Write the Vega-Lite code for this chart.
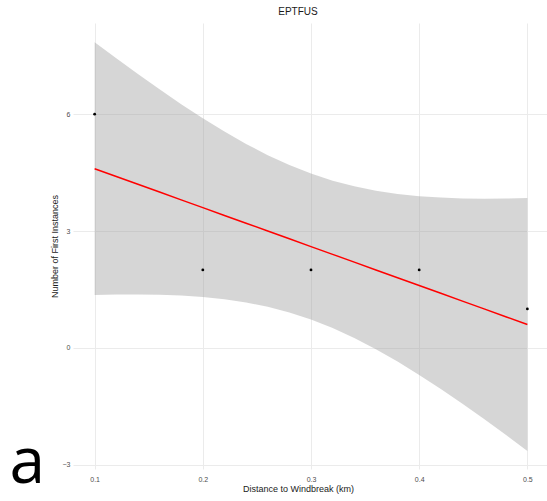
{
  "$schema": "https://vega.github.io/schema/vega-lite/v6.json",
  "width": 476,
  "height": 446,
  "autosize": {"type": "none"},
  "padding": {"left": 73, "top": 23, "right": 0, "bottom": 32},
  "background": "white",
  "title": {"text": "EPTFUS", "fontSize": 10, "font": "Liberation Sans", "fontWeight": "normal", "color": "#1a1a1a", "anchor": "middle", "dx": -13, "offset": 6},
  "config": {"view": {"stroke": null}},
  "datasets": {
    "pts": [
      {"distance": 0.1, "count": 6},
      {"distance": 0.2, "count": 2},
      {"distance": 0.3, "count": 2},
      {"distance": 0.4, "count": 2},
      {"distance": 0.5, "count": 1}
    ],
    "fit": [
      {"distance": 0.10, "fit": 4.6, "lo": 1.355, "hi": 7.845},
      {"distance": 0.12, "fit": 4.4, "lo": 1.367, "hi": 7.433},
      {"distance": 0.14, "fit": 4.2, "lo": 1.371, "hi": 7.029},
      {"distance": 0.16, "fit": 4.0, "lo": 1.364, "hi": 6.636},
      {"distance": 0.18, "fit": 3.8, "lo": 1.343, "hi": 6.257},
      {"distance": 0.20, "fit": 3.6, "lo": 1.305, "hi": 5.895},
      {"distance": 0.22, "fit": 3.4, "lo": 1.247, "hi": 5.553},
      {"distance": 0.24, "fit": 3.2, "lo": 1.165, "hi": 5.235},
      {"distance": 0.26, "fit": 3.0, "lo": 1.053, "hi": 4.947},
      {"distance": 0.28, "fit": 2.8, "lo": 0.908, "hi": 4.692},
      {"distance": 0.30, "fit": 2.6, "lo": 0.726, "hi": 4.474},
      {"distance": 0.32, "fit": 2.4, "lo": 0.508, "hi": 4.292},
      {"distance": 0.34, "fit": 2.2, "lo": 0.253, "hi": 4.147},
      {"distance": 0.36, "fit": 2.0, "lo": -0.035, "hi": 4.035},
      {"distance": 0.38, "fit": 1.8, "lo": -0.353, "hi": 3.953},
      {"distance": 0.40, "fit": 1.6, "lo": -0.695, "hi": 3.895},
      {"distance": 0.42, "fit": 1.4, "lo": -1.057, "hi": 3.857},
      {"distance": 0.44, "fit": 1.2, "lo": -1.436, "hi": 3.836},
      {"distance": 0.46, "fit": 1.0, "lo": -1.829, "hi": 3.829},
      {"distance": 0.48, "fit": 0.8, "lo": -2.233, "hi": 3.833},
      {"distance": 0.50, "fit": 0.6, "lo": -2.645, "hi": 3.845}
    ],
    "panel": [{"label": "a"}]
  },
  "layer": [
    {
      "data": {"name": "fit"},
      "mark": {"type": "area", "color": "#999999", "opacity": 0.4},
      "encoding": {
        "x": {"field": "distance", "type": "quantitative", "scale": {"domain": [0.08, 0.52], "nice": false, "zero": false},
          "axis": {"values": [0.1, 0.2, 0.3, 0.4, 0.5], "format": ".1f", "title": "Distance to Windbreak (km)", "domain": false, "ticks": false,
            "labelFont": "Liberation Sans", "labelFontSize": 7, "labelColor": "#4d4d4d", "labelPadding": 6,
            "titleFont": "Liberation Sans", "titleFontSize": 9, "titleFontWeight": "normal", "titleColor": "#1a1a1a", "titlePadding": 2, "titleX": 225,
            "gridColor": "#ebebeb", "gridWidth": 1}},
        "y": {"field": "lo", "type": "quantitative", "scale": {"domain": [-3.11, 8.34], "nice": false, "zero": false},
          "axis": {"values": [-3, 0, 3, 6], "title": "Number of First Instances", "domain": false, "ticks": false,
            "labelFont": "Liberation Sans", "labelFontSize": 7, "labelColor": "#4d4d4d", "labelPadding": 3,
            "titleFont": "Liberation Sans", "titleFontSize": 9, "titleFontWeight": "normal", "titleColor": "#1a1a1a", "titlePadding": 3,
            "gridColor": "#ebebeb", "gridWidth": 1}},
        "y2": {"field": "hi"}
      }
    },
    {
      "data": {"name": "fit"},
      "mark": {"type": "line", "color": "#ff0000", "strokeWidth": 1.5},
      "encoding": {
        "x": {"field": "distance", "type": "quantitative",
          "axis": {"values": [0.15, 0.25, 0.35, 0.45], "labels": false, "ticks": false, "domain": false, "title": null, "orient": "bottom", "gridColor": "#f2f2f2", "gridWidth": 0.6}},
        "y": {"field": "fit", "type": "quantitative",
          "axis": {"values": [-1.5, 1.5, 4.5, 7.5], "labels": false, "ticks": false, "domain": false, "title": null, "orient": "left", "gridColor": "#f2f2f2", "gridWidth": 0.6}}
      }
    },
    {
      "data": {"name": "pts"},
      "mark": {"type": "circle", "color": "#000000", "size": 8, "opacity": 1},
      "encoding": {
        "x": {"field": "distance", "type": "quantitative", "axis": null},
        "y": {"field": "count", "type": "quantitative", "axis": null}
      }
    },
    {
      "data": {"name": "panel"},
      "mark": {"type": "text", "font": "Open Sans", "fontSize": 64, "color": "#000000", "align": "right", "baseline": "alphabetic", "dx": -28, "dy": 14},
      "encoding": {
        "x": {"datum": 0.08, "type": "quantitative", "axis": null},
        "y": {"datum": -3.11, "type": "quantitative", "axis": null},
        "text": {"field": "label"}
      }
    }
  ],
  "resolve": {"axis": {"x": "independent", "y": "independent"}}
}
